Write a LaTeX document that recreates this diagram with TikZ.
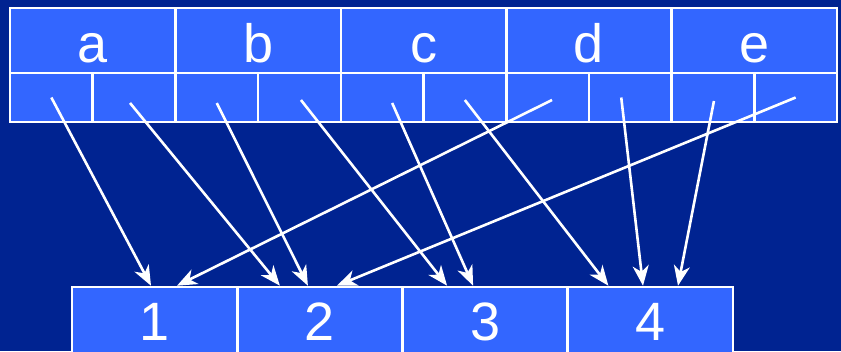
\documentclass[tikz,border=0pt]{standalone}
\usepackage{fontspec}
\setmainfont{Liberation Sans}
\usetikzlibrary{arrows.meta}
\definecolor{bgblue}{RGB}{0,35,145}
\definecolor{cellblue}{RGB}{51,102,255}

\tikzset{
  cell/.style={draw=white,line width=2.6pt,fill=cellblue,inner sep=0pt,text=white,
    font=\fontsize{54}{60}\selectfont},
  keycell/.style={cell,minimum width=165.4pt,minimum height=65pt,text height=43pt,text depth=0pt},
  subcell/.style={cell,minimum width=82.7pt,minimum height=49pt},
  slotcell/.style={cell,minimum width=165.25pt,minimum height=70pt,text height=36pt,text depth=0pt},
  hasharrow/.style={draw=white,line width=2.6pt,-{Stealth[length=20pt,width=16pt,inset=6pt]}}
}

\begin{document}
\begin{tikzpicture}[x=1pt,y=-1pt]
\fill[bgblue] (0,0) rectangle (841,351);
\useasboundingbox (0,0) rectangle (841,351);

% keys
\node[keycell] (a) at (92.7,40.5) {a};
\node[keycell] (b) at (258.1,40.5) {b};
\node[keycell] (c) at (423.5,40.5) {c};
\node[keycell] (d) at (588.9,40.5) {d};
\node[keycell] (e) at (754.3,40.5) {e};

% two slots per key
\node[subcell] (a1) at (51.35,97.5) {};
\node[subcell] (a2) at (134.05,97.5) {};
\node[subcell] (b1) at (216.75,97.5) {};
\node[subcell] (b2) at (299.45,97.5) {};
\node[subcell] (c1) at (382.15,97.5) {};
\node[subcell] (c2) at (464.85,97.5) {};
\node[subcell] (d1) at (547.55,97.5) {};
\node[subcell] (d2) at (630.25,97.5) {};
\node[subcell] (e1) at (712.95,97.5) {};
\node[subcell] (e2) at (795.65,97.5) {};

% buckets
\node[slotcell] (n1) at (154.6,322) {1};
\node[slotcell] (n2) at (319.9,322) {2};
\node[slotcell] (n3) at (485.1,322) {3};
\node[slotcell] (n4) at (650.4,322) {4};

\draw[hasharrow] (a1.center) -- ([xshift=-3.6pt]n1.north);
\draw[hasharrow] ([xshift=-4pt,yshift=-5.5pt]a2.center) -- ([xshift=-40pt]n2.north);
\draw[hasharrow] ([yshift=-5.5pt]b1.center) -- ([xshift=-12pt]n2.north);
\draw[hasharrow] ([xshift=1.5pt,yshift=-2.5pt]b2.center) -- ([xshift=-38pt]n3.north);
\draw[hasharrow] ([xshift=10pt,yshift=-5.5pt]c1.center) -- ([xshift=-12pt]n3.north);
\draw[hasharrow] ([yshift=-2.5pt]c2.center) -- ([xshift=-42pt]n4.north);
\draw[hasharrow] ([xshift=4.5pt,yshift=-2.5pt]d1.center) -- ([xshift=22.4pt]n1.north);
\draw[hasharrow] ([xshift=-9pt]d2.center) -- ([xshift=-7.4pt]n4.north);
\draw[hasharrow] ([xshift=1pt,yshift=-3.5pt]e1.center) -- ([xshift=27.6pt]n4.north);
\draw[hasharrow] (e2.center) -- ([xshift=17pt]n2.north);
\end{tikzpicture}
\end{document}
